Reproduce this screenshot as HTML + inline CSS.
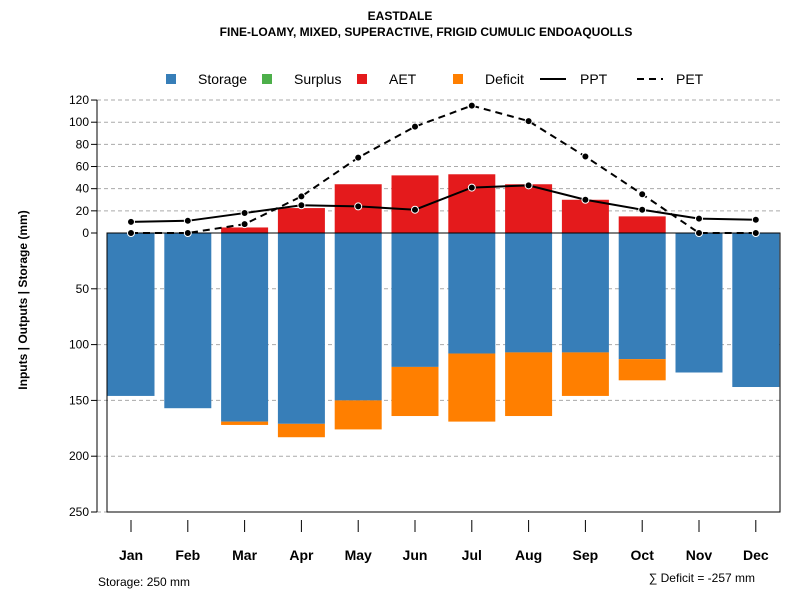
<!DOCTYPE html>
<html><head><meta charset="utf-8"><style>
body{margin:0;background:#fff;font-family:"Liberation Sans",sans-serif}
svg text{font-family:"Liberation Sans",sans-serif}
</style></head><body>
<svg id="c" width="800" height="600" xmlns="http://www.w3.org/2000/svg"></svg>
<script>
const months=["Jan","Feb","Mar","Apr","May","Jun","Jul","Aug","Sep","Oct","Nov","Dec"];
const storage=[146,157,169,171,150,120,108,107,107,113,125,138];
const deficit=[0,0,3,12,26,44,61,57,39,19,0,0];
const aet=[0,0,5,22.5,44,52,53,44,30,15,0,0];
const ppt=[10,11,18,25,24,21,41,43,30,21,13,12];
const pet=[0,0,8,33,68,96,115,101,69,35,0,0];
const upTicks=[0,20,40,60,80,100,120];
const downTicks=[50,100,150,200,250];
const svg=document.getElementById('c');const NS="http://www.w3.org/2000/svg";
function el(t,a,p){const e=document.createElementNS(NS,t);for(const k in a)e.setAttribute(k,a[k]);(p||svg).appendChild(e);return e;}
const y0=233;
const yUp=v=>y0-v*1.108, yDn=v=>y0+v*1.116;
const xC=i=>131+i*56.8, bw=47;
let t;
t=el('text',{x:400,y:20,'text-anchor':'middle','font-size':12,'font-weight':'bold'});t.textContent="EASTDALE";

t=el('text',{x:426,y:36,'text-anchor':'middle','font-size':12,'font-weight':'bold'});t.textContent="FINE-LOAMY, MIXED, SUPERACTIVE, FRIGID CUMULIC ENDOAQUOLLS";

upTicks.forEach(v=>{if(v>0){const l=el('line',{x1:97,x2:780,y1:yUp(v),y2:yUp(v),stroke:'#aaa','stroke-dasharray':'4,3'});}
 el('line',{x1:91,x2:97,y1:yUp(v),y2:yUp(v),stroke:'#000'});
 t=el('text',{x:89,y:yUp(v)+4,'text-anchor':'end','font-size':12});t.textContent=v;});
downTicks.forEach(v=>{const l=el('line',{x1:97,x2:780,y1:yDn(v),y2:yDn(v),stroke:'#aaa','stroke-dasharray':'4,3'});
 el('line',{x1:91,x2:97,y1:yDn(v),y2:yDn(v),stroke:'#000'});
 t=el('text',{x:89,y:yDn(v)+4,'text-anchor':'end','font-size':12});t.textContent=v;});
el('line',{x1:97,x2:97,y1:yUp(120),y2:yDn(250),stroke:'#000'});
months.forEach((m,i)=>{const x=xC(i)-bw/2;
 let r=el('rect',{x:x,y:y0,width:bw,height:yDn(storage[i])-y0,fill:'#377eb8'});
 if(deficit[i]>0){r=el('rect',{x:x,y:yDn(storage[i]),width:bw,height:yDn(storage[i]+deficit[i])-yDn(storage[i]),fill:'#ff7f00'});}
 if(aet[i]>0){r=el('rect',{x:x,y:yUp(aet[i]),width:bw,height:y0-yUp(aet[i]),fill:'#e41a1c'});}
 el('line',{x1:xC(i),x2:xC(i),y1:520,y2:532,stroke:'#000'});
 t=el('text',{x:xC(i),y:560,'text-anchor':'middle','font-size':14,'font-weight':'bold'});t.textContent=m;});
el('rect',{x:107,y:y0,width:673,height:yDn(250)-y0,fill:'none',stroke:'#000'});
function series(arr,dash,name){const pts=arr.map((v,i)=>xC(i)+','+yUp(v)).join(' ');
 const p=el('polyline',{points:pts,fill:'none',stroke:'#000','stroke-width':2,'stroke-dasharray':dash});
 arr.forEach((v,i)=>{const c=el('circle',{cx:xC(i),cy:yUp(v),r:3.5,fill:'#000',stroke:'#fff','stroke-width':1});});}
series(pet,'7,5','pet');series(ppt,'none','ppt');
const lg=el('g',{});
[['Storage','#377eb8',166,198],['Surplus','#4daf4a',262,294],['AET','#e41a1c',357,389],['Deficit','#ff7f00',453,485]].forEach(d=>{
 el('rect',{x:d[2],y:74,width:10,height:10,fill:d[1]},lg);t=el('text',{x:d[3],y:84,'font-size':14},lg);t.textContent=d[0];});
el('line',{x1:540,x2:566,y1:79,y2:79,stroke:'#000','stroke-width':2},lg);t=el('text',{x:580,y:84,'font-size':14},lg);t.textContent="PPT";
el('line',{x1:637,x2:663,y1:79,y2:79,stroke:'#000','stroke-width':2,'stroke-dasharray':'7,5'},lg);t=el('text',{x:676,y:84,'font-size':14},lg);t.textContent="PET";
t=el('text',{x:27,y:300,'text-anchor':'middle','font-size':12,'font-weight':'bold','xml:space':'preserve',transform:'rotate(-90 27 300)'});t.textContent="Inputs | Outputs | Storage     (mm)";

t=el('text',{x:98,y:586,'font-size':12});t.textContent="Storage: 250 mm";
t=el('text',{x:755,y:582,'text-anchor':'end','font-size':12});t.textContent="∑ Deficit = -257 mm";
</script>
</body></html>
